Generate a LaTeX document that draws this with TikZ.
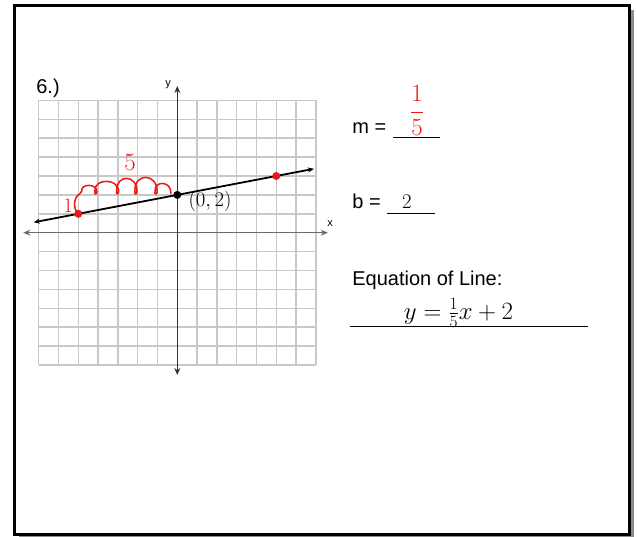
\documentclass[tikz,border=0pt]{standalone}
\usepackage{fontspec}
\setmainfont{Liberation Sans}
\usetikzlibrary{arrows.meta, positioning}
\definecolor{cred}{HTML}{F01414}
\definecolor{cgrid}{HTML}{C8C8C8}
\definecolor{caxis}{HTML}{6A6A6A}
\definecolor{cshadow}{HTML}{8C8C8C}
\tikzset{
  every picture/.style={line width=1.2pt},
  printed/.style={font=\fontsize{20}{24}\selectfont, inner sep=0pt},
  small/.style={font=\fontsize{11}{13}\selectfont, inner sep=0pt},
  hand/.style={font=\fontsize{#1}{#1}\selectfont, inner sep=0pt},
  hand/.default=22,
  ptdot/.style={circle, fill=#1, inner sep=0pt, minimum size=8pt},
  ptdot/.default=black,
  axisline/.style={{Stealth[length=7pt, width=6pt]}-{Stealth[length=7pt, width=6pt]}, draw=caxis, line width=1.5pt},
  graphline/.style={{Stealth[length=6pt, width=5pt]}-{Stealth[length=6pt, width=5pt]}, line width=1.8pt},
  redpen/.style={draw=cred, line width=1.5pt, line cap=round, line join=round},
  blankline/.style={draw=black, line width=1.3pt},
}
\begin{document}
\begin{tikzpicture}[x=19.8pt, y=18.9pt]
  \useasboundingbox (-8.955,-16.101) rectangle (23.217,12.312);
  % page frame
  \fill[cshadow] ([shift={(4pt,-4pt)}]-8.22,-15.97) rectangle ([shift={(4pt,-4pt)}]22.84,12.02);
  \draw[line width=2.5pt, fill=white] (-8.22,-15.97) rectangle (22.84,12.02);
  % grid and axes
  \draw[cgrid, line width=1.5pt, step=1] (-7,-7) grid (7,7);
  \coordinate (xl) at (-7.78,0);
  \coordinate (xr) at (7.6,0);
  \coordinate (yb) at (0,-7.53);
  \coordinate (yt) at (0,7.76);
  \draw[axisline] (xl) -- (xr);
  \draw[axisline, draw=black!80] (yb) -- (yt);
  \node[small] (ylab) at (-0.47,7.82) {y};
  \node[small] (xlab) at (7.72,0.46) {x};
  \node[printed] (num) at (-6.53,7.66) {6.)};
  % the line and its points
  \coordinate (lstart) at (-7.25,0.55);
  \coordinate (lend) at (6.9,3.38);
  \draw[graphline] (lstart) -- (lend);
  \node[ptdot=cred] (pa) at (-5,1) {};
  \node[ptdot] (pb) at (0,2) {};
  \node[ptdot=cred] (pc) at (5,3) {};
  % rise and run
  \draw[redpen] (pa.center) .. controls (-5.3,1.3) and (-5.2,1.85) .. (-5.0,2.0)
    .. controls (-4.9,2.08) and (-4.85,2.15) .. (-4.83,2.2);
  \foreach \a/\b/\c in {-4.83/-4.16/2.61, -4.16/-3.06/2.9, -3.06/-2.14/3.11, -2.14/-1.12/3.18}
    \draw[redpen] (\a,2.2) .. controls (\a-0.05,\c) and (\b+0.12,\c) .. (\b+0.1,2.15)
      .. controls (\b+0.08,1.98) and (\b-0.06,2.04) .. (\b,2.2);
  \draw[redpen] (-1.12,2.2) .. controls (-1.17,2.76) and (-0.3,2.76) .. (-0.32,2.08);
  \node[hand=24, text=cred] (run) at (-2.39,3.69) {$5$};
  \node[hand=20, text=cred] (rise) at (-5.52,1.41) {$1$};
  \node[hand=20] (icpt) at (1.65,1.67) {$(0,2)$};
  % answers
  \node[printed, anchor=base west] (mlab) at (8.81,5.26) {m =};
  \coordinate (mbl) at (10.9,5.03);
  \coordinate (mbr) at (13.27,5.03);
  \draw[blankline] (mbl) -- (mbr);
  \node[hand=26, text=cred] (mval) at (12.11,6.49) {$\displaystyle\frac{1}{5}$};
  \node[printed, anchor=base west] (blab) at (8.81,1.29) {b =};
  \coordinate (bbl) at (10.58,1.03);
  \coordinate (bbr) at (13.01,1.03);
  \draw[blankline] (bbl) -- (bbr);
  \node[hand=22] (bval) at (11.59,1.64) {$2$};
  \node[printed, anchor=base west] (eqlab) at (8.81,-2.77) {Equation of Line:};
  \coordinate (ebl) at (8.72,-4.97);
  \coordinate (ebr) at (20.76,-4.97);
  \draw[blankline] (ebl) -- (ebr);
  \node[hand=24] (eqval) at (14.2,-4.25) {$y=\frac{1}{5}x+2$};
\end{tikzpicture}
\end{document}
